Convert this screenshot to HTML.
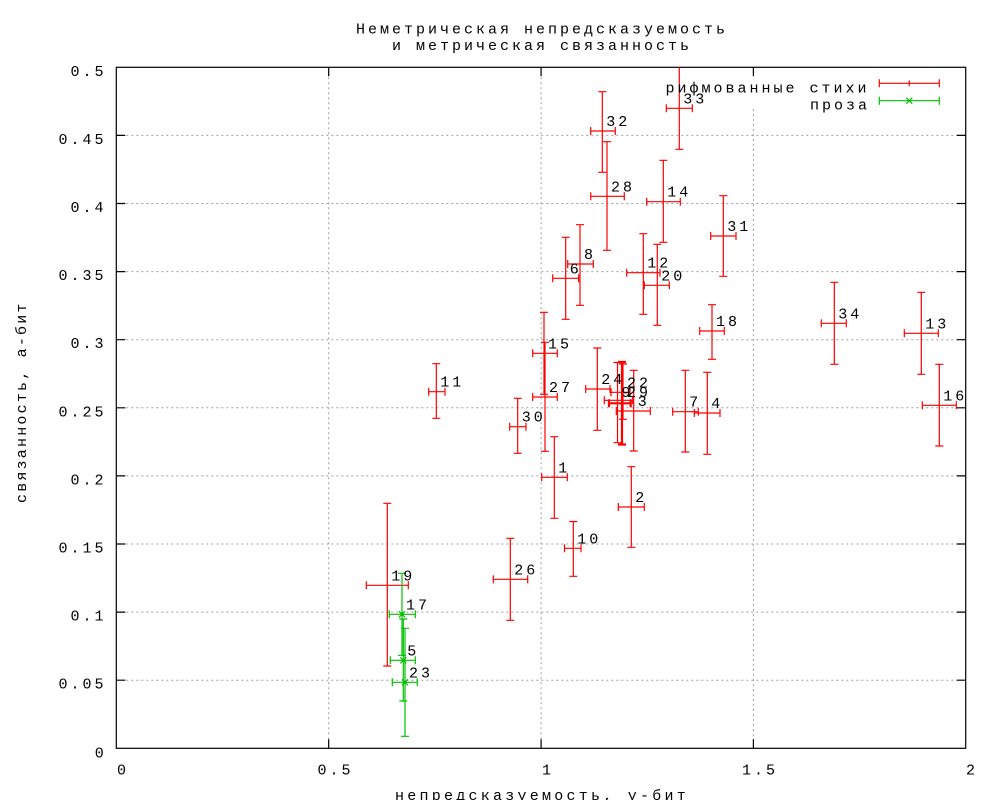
<!DOCTYPE html>
<html><head><meta charset="utf-8"><style>
html,body{margin:0;padding:0;background:#fff;}
svg{display:block;}
text{font-family:"Liberation Mono","DejaVu Sans Mono",monospace;font-size:15px;letter-spacing:3px;fill:#000;}
</style></head><body>
<svg width="1000" height="800" viewBox="0 0 1000 800" xmlns="http://www.w3.org/2000/svg">
<rect width="1000" height="800" fill="#fff"/>
<!-- grid -->
<g stroke="#a0a0a0" stroke-width="1" stroke-dasharray="2 3" fill="none">
<path d="M116.3 680.2H965.7M116.3 612.1H965.7M116.3 544H965.7M116.3 475.9H965.7M116.3 407.8H965.7M116.3 339.7H965.7M116.3 271.6H965.7M116.3 203.5H965.7M116.3 135.4H965.7"/>
<path d="M328.7 67.3V748.3M541.1 67.3V748.3M753.4 109V748.3"/>
</g>
<!-- axes box -->
<g stroke="#000" stroke-width="1.2" fill="none">
<rect x="116.3" y="67.3" width="849.4" height="681"/>
<path d="M116.3 680.2h9M116.3 612.1h9M116.3 544h9M116.3 475.9h9M116.3 407.8h9M116.3 339.7h9M116.3 271.6h9M116.3 203.5h9M116.3 135.4h9"/>
<path d="M965.7 680.2h-9M965.7 612.1h-9M965.7 544h-9M965.7 475.9h-9M965.7 407.8h-9M965.7 339.7h-9M965.7 271.6h-9M965.7 203.5h-9M965.7 135.4h-9"/>
<path d="M328.7 748.3v-9M541.1 748.3v-9M753.4 748.3v-9M328.7 67.3v9M541.1 67.3v9M753.4 67.3v9"/>
</g>
<!-- y tick labels -->
<text x="94.8" y="757.3">0</text>
<text x="58.5" y="688.7">0.05</text>
<text x="70.5" y="620.6">0.1</text>
<text x="58.5" y="552.5">0.15</text>
<text x="70.5" y="484.4">0.2</text>
<text x="58.5" y="416.3">0.25</text>
<text x="70.5" y="348.2">0.3</text>
<text x="58.5" y="280.1">0.35</text>
<text x="70.5" y="212">0.4</text>
<text x="58.5" y="143.9">0.45</text>
<text x="70.5" y="75.8">0.5</text>
<!-- x tick labels -->
<text x="117" y="774.5">0</text>
<text x="317.5" y="774.5">0.5</text>
<text x="542" y="774.5">1</text>
<text x="742" y="774.5">1.5</text>
<text x="966" y="774.5">2</text>
<!-- titles -->
<text x="356" y="33.5">Неметрическая непредсказуемость</text>
<text x="392" y="50">и метрическая связанность</text>
<text x="395" y="800" style="letter-spacing:3.25px">непредсказуемость, у-бит</text>
<text transform="translate(26,503) rotate(-90)" style="letter-spacing:2.2px">связанность, а-бит</text>
<!-- red series -->
<g stroke="#ff0000" stroke-width="1.2" fill="none">
<path d="M541.7 477.3H567.3M541.7 473.3V481.3M567.3 473.3V481.3M554.3 436.7V518.3M550.3 436.7H558.3M550.3 518.3H558.3"/>
<path d="M618.3 507H644.3M618.3 503V511M644.3 503V511M631.3 466.7V547.3M627.3 466.7H635.3M627.3 547.3H635.3"/>
<path d="M616.3 411H650.3M616.3 407V415M650.3 407V415M633.7 370.3V451M629.7 370.3H637.7M629.7 451H637.7"/>
<path d="M694.3 413H720M694.3 409V417M720 409V417M707.3 372.3V454.3M703.3 372.3H711.3M703.3 454.3H711.3"/>
<path d="M552.7 278.3H578.7M552.7 274.3V282.3M578.7 274.3V282.3M565.7 237.3V319.3M561.7 237.3H569.7M561.7 319.3H569.7"/>
<path d="M672.7 411.7H698.3M672.7 407.7V415.7M698.3 407.7V415.7M685.3 370.3V452M681.3 370.3H689.3M681.3 452H689.3"/>
<path d="M567.7 264H593.3M567.7 260V268M593.3 260V268M580 224.7V305.3M576 224.7H584M576 305.3H584"/>
<path d="M564.5 548.3H581M564.5 544.3V552.3M581 544.3V552.3M573.3 521.5V576.3M569.3 521.5H577.3M569.3 576.3H577.3"/>
<path d="M428.7 391.7H445M428.7 387.7V395.7M445 387.7V395.7M436.3 363.7V418.3M432.3 363.7H440.3M432.3 418.3H440.3"/>
<path d="M626.7 272.7H660M626.7 268.7V276.7M660 268.7V276.7M643.3 233.7V314.3M639.3 233.7H647.3M639.3 314.3H647.3"/>
<path d="M904.3 333.3H938.3M904.3 329.3V337.3M938.3 329.3V337.3M921.3 292.3V374.3M917.3 292.3H925.3M917.3 374.3H925.3"/>
<path d="M646.7 201.7H680.3M646.7 197.7V205.7M680.3 197.7V205.7M663.3 160.3V242.3M659.3 160.3H667.3M659.3 242.3H667.3"/>
<path d="M532.7 353.3H557.3M532.7 349.3V357.3M557.3 349.3V357.3M544 312.3V394.3M540 312.3H548M540 394.3H548"/>
<path d="M922.3 405.3H956.3M922.3 401.3V409.3M956.3 401.3V409.3M939.3 364.3V446M935.3 364.3H943.3M935.3 446H943.3"/>
<path d="M699.7 331H724.3M699.7 327V335M724.3 327V335M712 304.7V359.3M708 304.7H716M708 359.3H716"/>
<path d="M366.3 585.3H408.3M366.3 581.3V589.3M408.3 581.3V589.3M387.3 503.3V666M383.3 503.3H391.3M383.3 666H391.3"/>
<path d="M644.3 285.3H669.3M644.3 281.3V289.3M669.3 281.3V289.3M657.3 244.3V325.3M653.3 244.3H661.3M653.3 325.3H661.3"/>
<path d="M611 392.3H630M611 388.3V396.3M630 388.3V396.3M623 364V419.3M619 364H627M619 419.3H627"/>
<path d="M604.3 400.3H632.7M604.3 396.3V404.3M632.7 396.3V404.3M617.5 362.5V442.7M613.5 362.5H621.5M613.5 442.7H621.5"/>
<path stroke-width="2.2" d="M609 403.3H630.7M609 399.3V407.3M630.7 399.3V407.3M622 362V444.5M618 362H626M618 444.5H626"/>
<path d="M585.7 389H610M585.7 385V393M610 385V393M597.3 348V430.3M593.3 348H601.3M593.3 430.3H601.3"/>
<path d="M493.3 579.3H527.7M493.3 575.3V583.3M527.7 575.3V583.3M510.3 538.3V620.3M506.3 538.3H514.3M506.3 620.3H514.3"/>
<path d="M532.7 397H557.3M532.7 393V401M557.3 393V401M545 342.3V451.3M541 342.3H549M541 451.3H549"/>
<path d="M590.7 196.3H624.3M590.7 192.3V200.3M624.3 192.3V200.3M607 141.7V250.3M603 141.7H611M603 250.3H611"/>
<path d="M509.7 426.7H526M509.7 422.7V430.7M526 422.7V430.7M517.7 398.3V453.3M513.7 398.3H521.7M513.7 453.3H521.7"/>
<path d="M710.7 236H736M710.7 232V240M736 232V240M723.3 195.7V276.3M719.3 195.7H727.3M719.3 276.3H727.3"/>
<path d="M590.7 131H615.3M590.7 127V135M615.3 127V135M602.3 91.7V172.3M598.3 91.7H606.3M598.3 172.3H606.3"/>
<path d="M666.3 108.3H692.3M666.3 104.3V112.3M692.3 104.3V112.3M679.3 67.3V149.3M675.3 149.3H683.3"/>
<path d="M821.3 323.3H846.3M821.3 319.3V327.3M846.3 319.3V327.3M834.3 282.3V364.3M830.3 282.3H838.3M830.3 364.3H838.3"/>
<!-- legend red -->
<path d="M879.3 83.3H939.3M879.3 79.3V87.3M939.3 79.3V87.3M909.3 80.5V86.1"/>
</g>
<!-- green series -->
<g stroke="#00c000" stroke-width="1.2" fill="none">
<path d="M389.3 614.3H415.3M389.3 610.3V618.3M415.3 610.3V618.3M402 573.3V655.3M398 573.3H406M398 655.3H406M399 611.3L405 617.3M399 617.3L405 611.3"/>
<path d="M390.3 660.3H415.3M390.3 656.3V664.3M415.3 656.3V664.3M403.3 619V701M399.3 619H407.3M399.3 701H407.3M400.3 657.3L406.3 663.3M400.3 663.3L406.3 657.3"/>
<path d="M392.3 682.3H417.3M392.3 678.3V686.3M417.3 678.3V686.3M405 628.3V736.3M401 628.3H409M401 736.3H409M402 679.3L408 685.3M402 685.3L408 679.3"/>
<path d="M879.3 100.7H939.3M879.3 96.7V104.7M939.3 96.7V104.7M906.3 97.7L912.3 103.7M906.3 103.7L912.3 97.7"/>
</g>
<!-- legend text -->
<text x="665.5" y="92.5">рифмованные стихи</text>
<text x="810" y="109.3">проза</text>
<!-- point labels -->
<text x="558.3" y="472.3">1</text>
<text x="635.3" y="502">2</text>
<text x="637.7" y="406">3</text>
<text x="711.3" y="408">4</text>
<text x="569.7" y="273.3">6</text>
<text x="689.3" y="406.7">7</text>
<text x="584" y="259">8</text>
<text x="577.3" y="543.3">10</text>
<text x="440.3" y="386.7">11</text>
<text x="647.3" y="267.7">12</text>
<text x="925.3" y="328.3">13</text>
<text x="667.3" y="196.7">14</text>
<text x="548" y="348.3">15</text>
<text x="943.3" y="400.3">16</text>
<text x="716" y="326">18</text>
<text x="391.3" y="580.3">19</text>
<text x="661.3" y="280.3">20</text>
<text x="627" y="387.3">22</text>
<text x="621.5" y="397">9</text>
<text x="627" y="397">29</text>
<text x="601.3" y="384">24</text>
<text x="514.3" y="574.3">26</text>
<text x="549" y="392">27</text>
<text x="611" y="191.3">28</text>
<text x="521.7" y="421.7">30</text>
<text x="727.3" y="231">31</text>
<text x="606.3" y="126">32</text>
<text x="683.3" y="103.3">33</text>
<text x="838.3" y="318.3">34</text>
<text x="406" y="609.3">17</text>
<text x="407.3" y="655.3">5</text>
<text x="409" y="677.3">23</text>
</svg>
</body></html>
